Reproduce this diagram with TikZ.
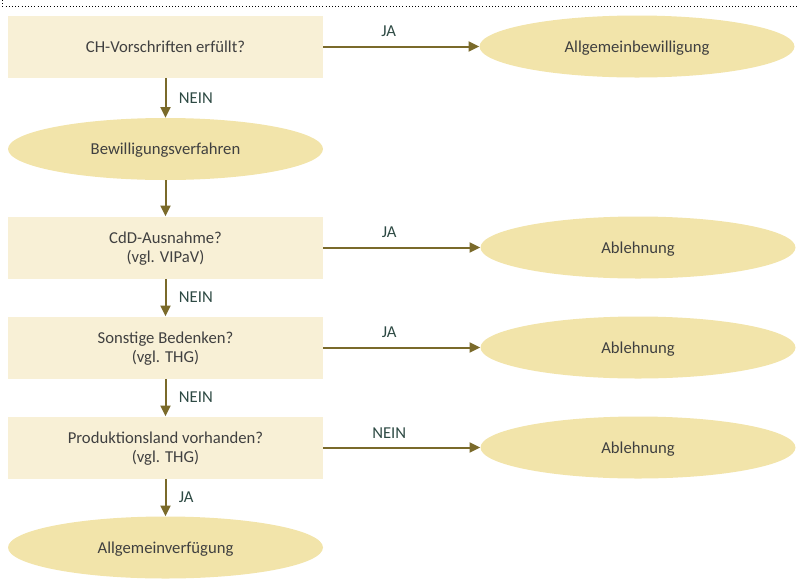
\documentclass[tikz,border=0pt]{standalone}
\usepackage{fontspec}
\setmainfont{Carlito}
\usetikzlibrary{shapes.geometric,arrows.meta}

\definecolor{boxfill}{HTML}{F8F0D6}
\definecolor{ovalfill}{HTML}{F2E4AA}
\definecolor{flowline}{HTML}{7A6A2A}
\definecolor{labeltext}{HTML}{2E4A44}
\definecolor{bodytext}{HTML}{404040}

\tikzset{
  question/.style={rectangle, fill=boxfill, text=bodytext, align=center,
    minimum width=236.25pt, minimum height=46.5pt, inner sep=0pt,
    text depth=0pt, font=\fontsize{12.5}{14.5}\selectfont},
  result/.style={ellipse, fill=ovalfill, text=bodytext, align=center,
    minimum width=236.25pt, minimum height=46.5pt, inner sep=0pt,
    text depth=0pt, font=\fontsize{12.5}{14.5}\selectfont},
  flow/.style={draw=flowline, line width=1.5pt,
    -{Triangle[length=8pt,width=7.5pt]}},
  answer/.style={text=labeltext, font=\fontsize{12.5}{14}\selectfont}
}

\begin{document}
\begin{tikzpicture}[x=0.75pt,y=-0.75pt]
  \useasboundingbox (0,0) rectangle (797,583);

  % Draw the dotted frame edge
  \draw[dotted, thin] (2,0) -- (2,6) -- (797,6);

  % Draw the questions and results
  \node[question] (q1) at (165.5,46.5) {CH-Vorschriften erfüllt?};
  \node[result]   (r1) at (637,46.5)   {Allgemeinbewilligung};
  \node[result]   (v1) at (165.5,149)  {Bewilligungsverfahren};
  \node[question] (q2) at (165.5,247.5) {CdD-Ausnahme?\\(vgl. VIPaV)};
  \node[result]   (r2) at (638,247.5)  {Ablehnung};
  \node[question] (q3) at (165.5,347.5) {Sonstige Bedenken?\\(vgl. THG)};
  \node[result]   (r3) at (638,347.5)  {Ablehnung};
  \node[question] (q4) at (165.5,447.5) {Produktionsland vorhanden?\\(vgl. THG)};
  \node[result]   (r4) at (638,447.5)  {Ablehnung};
  \node[result]   (v2) at (165.5,547.5) {Allgemeinverfügung};

  % Draw the arrows to the right
  \foreach \a/\b/\t in {q1/r1/JA, q2/r2/JA, q3/r3/JA, q4/r4/NEIN} {
    \draw[flow] (\a) -- (\b) node[answer, pos=0.42, above=3pt] {\t};
  }

  % Draw the arrows downwards
  \foreach \a/\b/\t in {q1/v1/NEIN, v1/q2/, q2/q3/NEIN, q3/q4/NEIN, q4/v2/JA} {
    \draw[flow] (\a) -- (\b) node[answer, midway, right=6pt] {\t};
  }
\end{tikzpicture}
\end{document}
